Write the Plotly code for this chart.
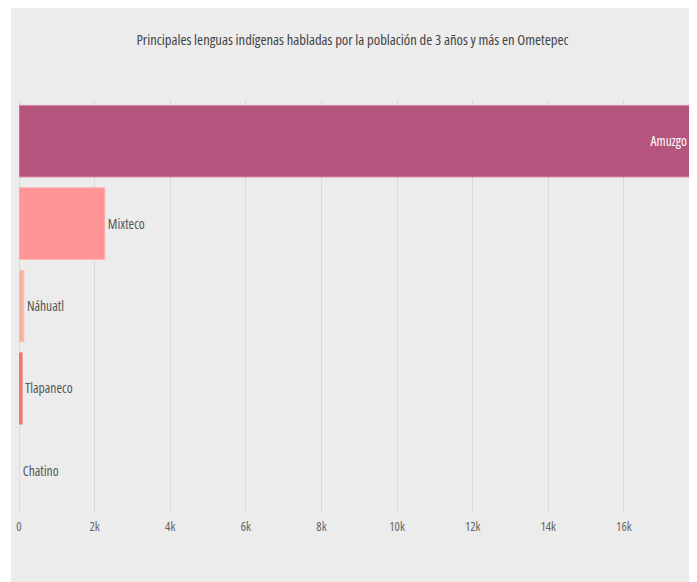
import plotly.graph_objects as go

languages = ["Amuzgo", "Mixteco", "Náhuatl", "Tlapaneco", "Chatino"]
speakers = [17750, 2270, 130, 85, 20]
bar_colors = ["#b5547c", "#ff9595", "#f2b4a0", "#e8715f", "#e3c6bd"]
line_colors = ["#d98fae", "#ffb3b3", "#f7cbbd", "#f09a8a", "#eddad4"]
text_colors = ["#ffffff", "#555555", "#555555", "#555555", "#555555"]
x_ticks = [0, 2000, 4000, 6000, 8000, 10000, 12000, 14000, 16000]
x_tick_labels = ["0", "2k", "4k", "6k", "8k", "10k", "12k", "14k", "16k"]

FONT = "Open Sans, sans-serif"

W, H = 689, 574
L, R, T, B = 10, 7, 92, 70
pw, ph = W - L - R, H - T - B

fig = go.Figure(go.Bar(
    y=languages,
    x=speakers,
    orientation="h",
    marker=dict(color=bar_colors, line=dict(color=line_colors, width=1)),
    text=languages,
    textposition=["inside", "outside", "outside", "outside", "outside"],
    insidetextanchor="end",
    textfont=dict(family=FONT, size=13.5, color=text_colors),
    cliponaxis=False,
    hoverinfo="x+y",
))

fig.update_layout(
    width=W, height=H,
    margin=dict(l=L, r=R, t=T, b=B),
    paper_bgcolor="#ffffff",
    plot_bgcolor="#ececec",
    bargap=0.13,
    showlegend=False,
    title=dict(
        text="Principales lenguas indígenas habladas por la población de 3 años y más en Ometepec",
        x=0.5, xanchor="center", y=1 - 32 / H, yanchor="middle",
        font=dict(family=FONT, size=14.6, color="#444444"),
    ),
    xaxis=dict(
        range=[0, 17750],
        tickvals=x_ticks, ticktext=x_tick_labels,
        showgrid=True, gridcolor="#d9d9d9", gridwidth=1,
        zeroline=True, zerolinecolor="#d9d9d9", zerolinewidth=1,
        showline=False,
        tickfont=dict(family=FONT, size=12.5, color="#666666"),
        ticks="",
        ticklabelstandoff=5,
    ),
    yaxis=dict(
        categoryorder="array", categoryarray=languages, autorange="reversed",
        showticklabels=False, showgrid=False, zeroline=False,
    ),
    shapes=[dict(
        type="rect", xref="paper", yref="paper",
        x0=(2 - L) / pw, x1=(687 - L) / pw,
        y0=-(B + 5) / ph, y1=(ph + T) / ph,
        fillcolor="#ececec", line=dict(width=0), layer="below",
    )],
)

# Use the condensed width of Open Sans (variable font) and re-measure text afterwards
post = """
var st = document.createElement('style');
st.textContent = 'svg text { font-stretch: 75% !important; }';
document.head.appendChild(st);
var gd = document.getElementById('{plot_id}');
var F = 'Open Sans, Arial, sans-serif';
Plotly.update(gd, {'textfont.family': F},
  {'title.font.family': F, 'xaxis.tickfont.family': F});
"""

fig.write_html("out.html", post_script=post)
